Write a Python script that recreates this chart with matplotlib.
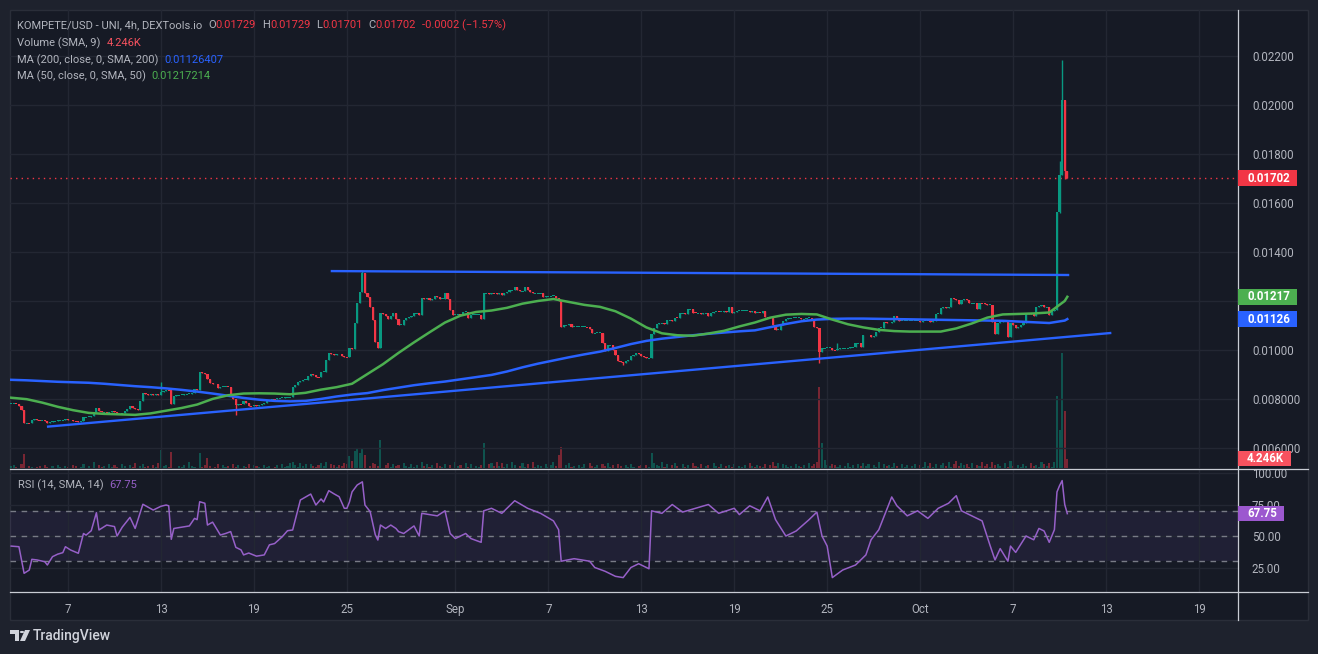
import numpy as np
import matplotlib.pyplot as plt
from matplotlib.patches import Rectangle, Polygon
from matplotlib.lines import Line2D

plt.rcParams['font.family'] = ['Roboto', 'DejaVu Sans']

# ---- data (4h candles, index 0 = Aug 3 08:00) ----
closes = [
    .00781, .00781, .00778, .00772, .00755, .00700, .00702, .00700, .00714, .00718,
    .00714, .00712, .00712, .00710, .00700, .00705, .00708, .00710, .00712, .00712,
    .00714, .00718, .00716, .00712, .00710, .00708, .00704, .00710, .00725, .00725,
    .00728, .00730, .00748, .00762, .00750, .00745, .00748, .00745, .00745, .00750,
    .00745, .00738, .00738, .00742, .00752, .00760, .00771, .00765, .00758, .00755,
    .00790, .00823, .00822, .00818, .00822, .00816, .00820, .00818, .00830, .00832,
    .00837, .00835, .00778, .00810, .00815, .00815, .00818, .00820, .00820, .00822,
    .00825, .00840, .00837, .00911, .00905, .00900, .00880, .00864, .00862, .00860,
    .00845, .00848, .00850, .00850, .00848, .00816, .00800, .00776, .00780, .00778,
    .00790, .00785, .00772, .00770, .00775, .00772, .00776, .00780, .00785, .00790,
    .00795, .00800, .00798, .00802, .00804, .00804, .00806, .00806, .00808, .00850,
    .00855, .00870, .00872, .00878, .00878, .00895, .00900, .00898, .00890, .00888,
    .00911, .00911, .00959, .00989, .00985, .00980, .00985, .00982, .00975, .00972,
    .00970, .01007, .01005, .01109, .01190, .01238, .01313, .01231, .01218, .01177,
    .01122, .01034, .01007, .01150, .01145, .01137, .01125, .01140, .01150, .01125,
    .01102, .01102, .01122, .01130, .01135, .01140, .01150, .01150, .01142, .01211,
    .01208, .01212, .01205, .01210, .01222, .01215, .01208, .01210, .01231, .01208,
    .01163, .01143, .01143, .01145, .01143, .01155, .01155, .01129, .01143, .01143,
    .01143, .01143, .01125, .01231, .01231, .01228, .01232, .01231, .01228, .01231,
    .01225, .01231, .01235, .01244, .01244, .01258, .01245, .01240, .01240, .01255,
    .01245, .01238, .01231, .01231, .01231, .01231, .01218, .01220, .01220, .01220,
    .01222, .01212, .01201, .01095, .01100, .01102, .01105, .01095, .01095, .01095,
    .01095, .01095, .01095, .01092, .01085, .01068, .01070, .01070, .01070, .01027,
    .00997, .01020, .01020, .01000, .00980, .00955, .00952, .00946, .00956, .00960,
    .00976, .00980, .00987, .00985, .00976, .00972, .00966, .00966, .01065, .01088,
    .01105, .01109, .01109, .01105, .01122, .01122, .01120, .01131, .01130, .01150,
    .01150, .01148, .01166, .01166, .01152, .01150, .01150, .01148, .01150, .01150,
    .01140, .01150, .01156, .01156, .01155, .01156, .01158, .01156, .01174, .01152,
    .01155, .01160, .01160, .01160, .01160, .01160, .01155, .01158, .01150, .01152,
    .01150, .01158, .01136, .01132, .01130, .01102, .01082, .01082, .01100, .01118,
    .01125, .01129, .01131, .01131, .01131, .01131, .01125, .01125, .01131, .01131,
    .01122, .01095, .01090, .00993, .01007, .01008, .01008, .01008, .01000, .00998,
    .01005, .01007, .01007, .01007, .01007, .01010, .01010, .01027, .01027, .01010,
    .01061, .01061, .01061, .01052, .01058, .01075, .01091, .01091, .01113, .01110,
    .01110, .01113, .01140, .01128, .01118, .01120, .01120, .01120, .01120, .01120,
    .01120, .01120, .01114, .01120, .01120, .01120, .01114, .01120, .01146, .01148,
    .01173, .01175, .01170, .01175, .01213, .01208, .01205, .01188, .01205, .01208,
    .01205, .01190, .01190, .01190, .01167, .01192, .01190, .01188, .01185, .01185,
    .01114, .01064, .01110, .01115, .01120, .01120, .01052, .01110, .01100, .01088,
    .01095, .01100, .01110, .01147, .01150, .01145, .01140, .01177, .01180, .01182,
    .01175, .01175, .01143, .01160, .01165, .01565, .01714, .02020, .01729, .01702,
]
wick_high = {58: .00870, 136: .01325, 320: .01030, 406: .01771, 407: .02184}
wick_low = {87: .00735, 237: .00940, 313: .00947, 406: .01560, 408: .01700, 409: .01701}

# volume, one digit per candle in 0.5K steps, large bars in K below
vol_digits = (
    "2310400210" "1203102031" "0210320140" "2060312041" "3104203150"
    "2412031502" "3120021306" "2105131201" "4031204130" "2140321031"
    "2013041256" "3152404213" "5260431325" "4575063402" "5426035142"
    "3052141306" "2413052140" "3062305140" "2137045262" "5140630251"
    "4061320413" "6274035120" "3140521304" "2513042031" "4102303185"
    "3261403520" "4130521402" "3052140231" "4021305213" "2140362504"
    "3120421305" "2460783243" "1302513042" "5240316042" "3152041302"
    "4031625140" "3526147253" "4150326241" "6342051720" "3142052316"
    "4251660000"
)
vol_big = {5: 6.6, 58: 8.5, 62: 7.5, 73: 7.0, 76: 4.7, 131: 5.5, 133: 8.0, 134: 9.0,
           135: 7.0, 136: 9.5, 137: 6.0, 143: 13.0, 183: 12.0, 212: 6.0, 213: 10.0,
           248: 7.0, 313: 38.0, 314: 12.0, 405: 34.0, 406: 18.0, 407: 54.0,
           408: 27.0, 409: 4.246}

# moving averages, one value per day (every 6 candles) + last candle
ma200 = [.00878, .00876, .00873, .00870, .00868, .00866, .00862, .00857, .00852, .00848,
         .00843, .00837, .00830, .00822, .00813, .00804, .00797, .00792, .00790, .00792,
         .00800, .00810, .00818, .00824, .00836, .00846, .00856, .00864, .00871, .00880,
         .00889, .00898, .00912, .00929, .00944, .00957, .00970, .00982, .00993, .01008,
         .01024, .01037, .01046, .01053, .01060, .01066, .01071, .01076, .01080, .01093,
         .01106, .01117, .01124, .01127, .01128, .01128, .01127, .01126, .01125, .01124,
         .01123, .01122, .01121, .01120, .01119, .01116, .01113, .01110, .01120, .01126]
ma50 = [.00805, .00799, .00785, .00768, .00754, .00743, .00739, .00737, .00735, .00741,
        .00752, .00763, .00777, .00800, .00815, .00822, .00823, .00822, .00819, .00825,
        .00838, .00848, .00862, .00902, .00942, .00988, .01031, .01072, .01112, .01140,
        .01155, .01161, .01172, .01189, .01200, .01208, .01196, .01184, .01176, .01158,
        .01128, .01092, .01068, .01060, .01058, .01067, .01078, .01096, .01112, .01132,
        .01144, .01147, .01145, .01124, .01105, .01092, .01082, .01077, .01075, .01075,
        .01075, .01088, .01108, .01132, .01145, .01147, .01149, .01153, .01200, .01217]

# RSI(14): (candle, value)
rsi_pts = [(0, 42), (3, 41.5), (5, 20.4), (7, 23), (8, 31.5), (10, 31), (13, 29.6), (14, 27),
           (16, 33.6), (18, 35.6), (20, 36.8), (21, 41.5), (23, 38.9), (26, 36.3), (28, 52),
           (29, 50.7), (31, 54.2), (33, 68.5), (34, 54.8), (37, 58.7), (40, 57.5), (41, 50),
           (43, 57), (46, 64.8), (48, 56), (51, 75.2), (55, 70.6), (58, 73.6), (60, 74.6),
           (61, 74), (62, 47.4), (63, 56), (69, 58), (71, 64), (72, 63), (73, 77.2), (75, 76),
           (76, 58.7), (78, 61), (81, 50.8), (83, 52), (85, 53.5), (87, 41), (89, 39), (90, 35),
           (92, 36.5), (95, 34), (98, 35), (100, 43), (102, 44), (105, 49.5), (107, 54.2),
           (109, 54.8), (112, 78.6), (116, 83.3), (118, 74.6), (120, 79.4), (121, 77), (123, 86),
           (125, 83.5), (127, 81.2), (129, 72), (130, 72), (131, 77), (132, 85), (134, 90.5),
           (136, 93), (137, 74.6), (139, 69.4), (141, 51), (142, 46.8), (143, 58.7), (145, 56),
           (147, 58.7), (149, 56), (150, 53.5), (152, 52), (156, 58), (158, 50), (159, 68),
           (165, 66), (168, 70), (170, 52), (172, 48), (176, 52), (178, 48), (182, 45), (183, 70),
           (186, 72), (190, 68), (195, 78), (200, 72), (205, 68), (210, 62), (212, 55), (213, 30),
           (218, 32), (224, 30), (226, 25), (230, 22), (234, 18), (237, 17), (240, 25), (243, 28),
           (247, 24), (248, 70), (252, 68), (256, 75), (260, 69), (265, 72), (270, 75), (274, 68),
           (280, 72), (282, 67), (286, 74), (290, 70), (293, 81), (296, 63), (300, 50), (304, 54),
           (309, 63), (312, 69), (314, 50), (316, 42), (318, 17), (322, 23), (327, 27), (331, 35),
           (333, 47), (336, 55), (341, 81), (343, 74), (347, 66), (351, 70), (355, 64), (359, 72),
           (363, 76), (366, 82), (368, 70), (372, 66), (376, 62), (379, 43), (381, 31), (383, 40),
           (386, 30), (387, 42), (389, 37), (393, 50), (396, 47), (398, 56), (400, 54), (402, 45),
           (404, 55), (405, 85), (406, 90), (407, 94), (408, 75), (409, 67.75)]

# drawn trend lines: (candle, price) end points
resistance = [(124.2, .01322), (409.3, .01306)]
support = [(14.3, .00687), (425.6, .01069)]

# date ticks: day of month label, days since Aug 1
tick_days = [6, 12, 18, 24, 31, 37, 43, 49, 55, 61, 67, 73, 79]
tick_labels = ['7', '13', '19', '25', 'Sep', '7', '13', '19', '25', 'Oct', '7', '13', '19']

price_ticks = [.006, .008, .010, .012, .014, .016, .018, .020, .022]
price_labels = ['0.006000', '0.008000', '0.01000', '', '0.01400', '0.01600', '0.01800',
                '0.02000', '0.02200']

# ---- style ----
BG = '#161a25'
OUTER = '#1e222d'
GRID = '#232733'
TXT = '#b2b5be'
UP = '#089981'
DOWN = '#f23645'
BLUE = '#2962ff'
GREEN = '#4caf50'
PURP = '#9660c8'
SEP = '#c9ccd4'
FS = 8.3

W, H = 1318, 654
fig = plt.figure(figsize=(W / 100, H / 100), dpi=100)
fig.patch.set_facecolor(OUTER)


def fx(px):
    return px / W


def fy(py):
    return 1 - py / H


def rect(x0, y0, x1, y1):
    return [fx(x0), fy(y1), fx(x1) - fx(x0), fy(y0) - fy(y1)]


fig.add_artist(Rectangle((fx(10), fy(620)), fx(1308) - fx(10), fy(10) - fy(620),
                         transform=fig.transFigure, fc=BG, ec='#2a2e39', lw=1, zorder=-2))

ax = fig.add_axes(rect(10, 10, 1238, 468))
axv = ax.twinx()
axr = fig.add_axes(rect(10, 470, 1238, 592), sharex=ax)
ax.set_zorder(2)
axv.set_zorder(1)
for a in (ax, axv, axr):
    a.patch.set_visible(False)
    for s in a.spines.values():
        s.set_visible(False)

n = len(closes)
idx = np.arange(n)
c = np.array(closes)
o = np.r_[c[0], c[:-1]]
hi = np.maximum(o, c)
lo = np.minimum(o, c)
for k, v in wick_high.items():
    hi[k] = v
for k, v in wick_low.items():
    lo[k] = v
up = c >= o
cols = np.where(up, UP, DOWN)

tick_pos = [(d - 2 - 1 / 3) * 6 for d in tick_days]
ax.set_xlim(-0.46, 475.1)
ax.set_ylim(0.00518, 0.02388)

ax.grid(True, color=GRID, lw=1)
ax.set_xticks(tick_pos)
ax.set_yticks(price_ticks)
ax.set_yticklabels(price_labels)
ax.yaxis.tick_right()
ax.tick_params(axis='y', length=0, pad=10, labelcolor=TXT, labelsize=FS)
ax.tick_params(axis='x', length=0, labelbottom=False)

# volume
vol = np.array([int(ch) * 0.5 for ch in vol_digits])
for k, v in vol_big.items():
    vol[k] = v
axv.bar(idx, vol, width=0.8, color=cols, alpha=0.45, lw=0)
axv.set_ylim(0, 215.6)
axv.set_yticks([])

# candles
flat = np.abs(c - o) < 0.00004
body_h = np.where(flat, 0.00004, np.abs(c - o))
body_b = np.where(flat, (o + c) / 2 - 0.00002, np.minimum(o, c))
ax.vlines(idx, lo, hi, colors=cols, lw=1.0, zorder=3)
ax.bar(idx, body_h, bottom=body_b, width=0.85, color=cols, lw=0, zorder=3)

# moving averages and drawings
ma_x = np.r_[np.arange(0, n - 1, 6), n - 1]
ax.plot(ma_x, ma200, color=BLUE, lw=1.8, zorder=4)
ax.plot(ma_x, ma50, color=GREEN, lw=1.8, zorder=4)
for seg in (resistance, support):
    ax.plot([p[0] for p in seg], [p[1] for p in seg], color=BLUE, lw=1.7, zorder=4)
ax.axhline(c[-1], color=DOWN, lw=1, ls=(0, (1, 3)), zorder=2)

# RSI pane
axr.set_ylim(5.56, 102.4)
axr.axhspan(30, 70, color='#7e57c2', alpha=0.1, lw=0)
axr.grid(True, color=GRID, lw=1)
axr.set_yticks([25, 50, 75, 100])
axr.set_yticklabels(['25.00', '50.00', '75.00', '100.00'])
axr.yaxis.tick_right()
for lvl in (30, 50, 70):
    axr.axhline(lvl, color='#787b86', lw=1, ls=(0, (4, 4)))
axr.plot([p[0] for p in rsi_pts], [p[1] for p in rsi_pts], color=PURP, lw=1.1)
axr.tick_params(axis='y', length=0, pad=10, labelcolor=TXT, labelsize=FS)
axr.set_xticks(tick_pos)
axr.set_xticklabels(tick_labels)
axr.tick_params(axis='x', length=0, pad=8, labelcolor=TXT, labelsize=FS)

# panel separators
for y in (468.5, 592):
    fig.add_artist(Line2D([fx(10), fx(1308)], [fy(y), fy(y)], color=SEP, lw=0.9, zorder=4))
fig.add_artist(Line2D([fx(1238), fx(1238)], [fy(10), fy(620)], color=SEP, lw=0.9, zorder=4))


def tag(axis, val, label, color, right, lowest=None, h=16):
    y = H - axis.transData.transform((0, val))[1]
    if lowest is not None:
        y = min(y, lowest)
    fig.add_artist(Rectangle((fx(1238), fy(y + h / 2)), fx(right) - fx(1238), h / H,
                             transform=fig.transFigure, fc=color, ec='none', zorder=5))
    fig.text(fx(1247), fy(y), label, color='white', fontsize=FS, fontweight='bold',
             va='center', ha='left', zorder=6)


tag(ax, c[-1], '0.01702', DOWN, 1297)
tag(ax, ma50[-1], '0.01217', GREEN, 1297)
tag(ax, ma200[-1], '0.01126', BLUE, 1297)
tag(axv, vol[-1], '4.246K', '#f7525f', 1291, lowest=462, h=15)
tag(axr, rsi_pts[-1][1], '67.75', '#9c58cf', 1284, h=15)

# legends
renderer = fig.canvas.get_renderer()


def line_of_text(x, y, parts, size=8.0):
    for s, col, gap in parts:
        t = fig.text(fx(x), fy(y), s, color=col, fontsize=size, va='center', ha='left', zorder=6)
        x = t.get_window_extent(renderer).x1 + gap


RED_T = '#f23645'
line_of_text(17, 25, [('KOMPETE/USD - UNI, 4h, DEXTools.io', TXT, 6), ('O', TXT, 0),
                      ('0.01729', RED_T, 6), ('H', TXT, 0), ('0.01729', RED_T, 6),
                      ('L', TXT, 0), ('0.01701', RED_T, 6), ('C', TXT, 0),
                      ('0.01702', RED_T, 6), ('-0.0002 (\u22121.57%)', RED_T, 0)])
line_of_text(17, 43, [('Volume (SMA, 9)', TXT, 6), ('4.246K', '#f7525f', 0)])
line_of_text(17, 60, [('MA (200, close, 0, SMA, 200)', TXT, 6), ('0.01126407', BLUE, 0)])
line_of_text(17, 76, [('MA (50, close, 0, SMA, 50)', TXT, 6), ('0.01217214', GREEN, 0)])
line_of_text(18, 485, [('RSI (14, SMA, 14)', TXT, 6), ('67.75', PURP, 0)])

# TradingView mark
logo = '#d1d4dc'
fig.add_artist(Polygon([(fx(10), fy(630)), (fx(19), fy(630)), (fx(19), fy(641)),
                        (fx(15), fy(641)), (fx(15), fy(634)), (fx(10), fy(634))],
                       closed=True, transform=fig.transFigure, fc=logo, ec='none'))
fig.add_artist(plt.Circle((fx(22), fy(632)), 2.2 / W, transform=fig.transFigure, fc=logo))
fig.add_artist(Polygon([(fx(25), fy(630)), (fx(30), fy(630)), (fx(25), fy(641)),
                        (fx(20), fy(641))], closed=True, transform=fig.transFigure,
                       fc=logo, ec='none'))
fig.text(fx(33), fy(636), 'TradingView', color=logo, fontsize=10, fontweight='medium',
         va='center', ha='left')

fig.savefig('out.png', dpi=100, facecolor=fig.get_facecolor())
